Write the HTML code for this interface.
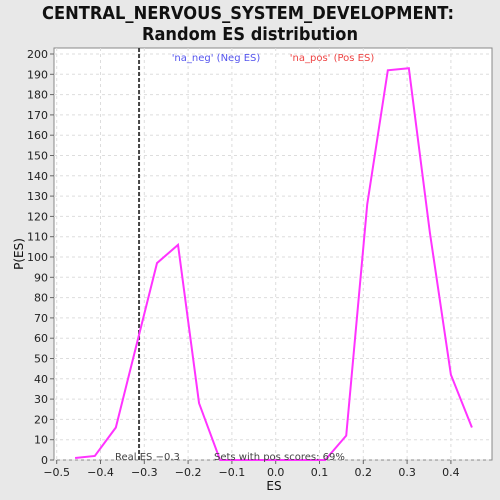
<!DOCTYPE html>
<html><head><meta charset="utf-8"><style>
body{margin:0;background:#e8e8e8;}
svg{display:block;font-family:"DejaVu Sans","Liberation Sans",sans-serif;}
</style></head><body>
<svg id="c" width="500" height="500">
<rect x="0" y="0" width="500" height="500" fill="#e8e8e8"/>
<text x="248" y="19" text-anchor="middle" font-size="18" font-weight="bold" fill="#111" textLength="412" lengthAdjust="spacingAndGlyphs">CENTRAL_NERVOUS_SYSTEM_DEVELOPMENT:</text>
<text x="250" y="40" text-anchor="middle" font-size="18" font-weight="bold" fill="#111" textLength="216" lengthAdjust="spacingAndGlyphs">Random ES distribution</text>
<rect x="54" y="48" width="438" height="412" fill="#fff" stroke="#888"/>
<g id="grid"></g><g id="axes"></g><g id="series"></g>
<text x="216" y="61" text-anchor="middle" font-size="10" fill="#5555ee">'na_neg' (Neg ES)</text>
<text x="332" y="61" text-anchor="middle" font-size="10" fill="#ee4444">'na_pos' (Pos ES)</text>
<text x="274" y="490" text-anchor="middle" font-size="12" fill="#111">ES</text>
<text x="23" y="254" text-anchor="middle" font-size="12" fill="#111" transform="rotate(-90 23 254)">P(ES)</text>
</svg>
<script>
const xs=[-0.458,-0.413,-0.365,-0.271,-0.223,-0.175,-0.127,-0.079,-0.031,0.017,0.065,0.113,0.161,0.209,0.256,0.304,0.352,0.400,0.448];
const ys=[1,2,16,97,106,28,0,0,0,0,0,0,12,126,192,193,112,42,16];
const xTicks=[-0.5,-0.4,-0.3,-0.2,-0.1,0.0,0.1,0.2,0.3,0.4];
const yTicks=[0,10,20,30,40,50,60,70,80,90,100,110,120,130,140,150,160,170,180,190,200];
const realES=-0.312;
const NS="http://www.w3.org/2000/svg";
const X=v=>275.7+v*438, Y=v=>460-v*2.03;
function mk(t,a,p){const e=document.createElementNS(NS,t);for(const k in a)e.setAttribute(k,a[k]);p.appendChild(e);return e;}
const g=document.getElementById('grid'),ax=document.getElementById('axes'),s=document.getElementById('series');
xTicks.forEach(v=>{
 const l=mk('line',{x1:X(v),x2:X(v),y1:48,y2:460,stroke:'#ddd','stroke-dasharray':'3,3'},g);
 
 
 mk('line',{x1:X(v),x2:X(v),y1:460,y2:464,stroke:'#666'},ax);
 const t=mk('text',{x:X(v),y:476,'text-anchor':'middle','font-size':11,fill:'#222'},ax);
 t.textContent=v.toFixed(1).replace('-','\u2212');
 
 
});
yTicks.forEach(v=>{
 const l=mk('line',{x1:54,x2:492,y1:Y(v),y2:Y(v),stroke:'#ddd','stroke-dasharray':'3,3'},g);
 
 
 mk('line',{x1:50,x2:54,y1:Y(v),y2:Y(v),stroke:'#666'},ax);
 const t=mk('text',{x:48,y:Y(v)+4,'text-anchor':'end','font-size':11,fill:'#222'},ax);
 t.textContent=v;
 
 
});
const rl=mk('line',{x1:X(realES),x2:X(realES),y1:48,y2:460,stroke:'#444','stroke-width':2,'stroke-dasharray':'4,2'},s);


const p=mk('polyline',{points:xs.map((x,i)=>X(x)+','+Y(ys[i])).join(' '),fill:'none',stroke:'#ff33ff','stroke-width':2},s);


const t1=mk('text',{x:115,y:460,'font-size':10,fill:'#444'},s);
t1.textContent='Real ES \u22120.3';


const t2=mk('text',{x:214,y:460,'font-size':10,fill:'#444'},s);
t2.textContent='Sets with pos scores: 69%';


</script>
</body></html>
